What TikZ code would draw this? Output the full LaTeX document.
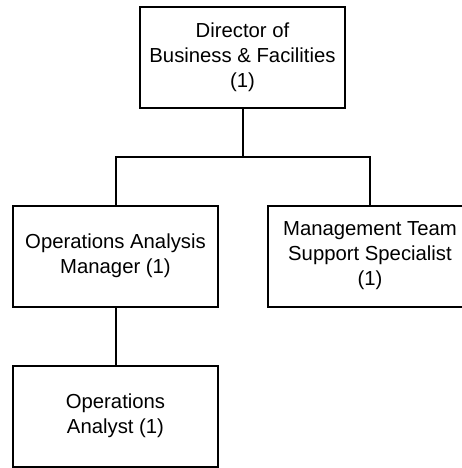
\documentclass[tikz,border=0pt]{standalone}
\usepackage{fontspec}
\setmainfont{Liberation Sans}
\usetikzlibrary{positioning}
\tikzset{post/.style={draw=black, line width=2pt, minimum width=205pt, minimum height=101pt, inner sep=0pt, align=center, font=\fontsize{20.3}{25}\selectfont},
	link/.style={line width=2pt}}

\begin{document}
\begin{tikzpicture}[x=1pt, y=-1pt]
		%%%%% START %%%%%
		
		\useasboundingbox (0, 0) rectangle (462, 468);
		\clip (0, 0) rectangle (462, 468);
		
		\node[post] (director) at (242.5, 57.5) {Director of\\Business \& Facilities\\(1)};
		\node[post] (manager) at (115.5, 256) {Operations Analysis\\Manager (1)};
		\node[post] (specialist) at (370, 256) {Management Team\\Support Specialist\\(1)};
		\node[post] (analyst) at (115.5, 416) {Operations\\Analyst (1)};
		
		\coordinate (bar) at (242.5, 156.5);
		
		\draw[link] (director.south) -- (bar) -| (manager.north);
		\draw[link] (bar) -| (specialist.north);
		\draw[link] (manager.south) -- (analyst.north);
		
		%%%%% END %%%%%
	\end{tikzpicture}
\end{document}
